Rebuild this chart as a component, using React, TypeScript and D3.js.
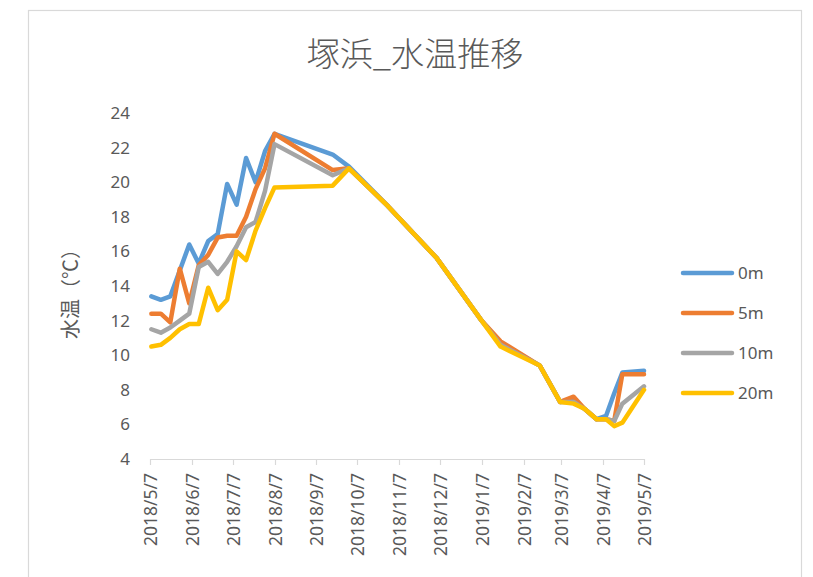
import React from "react";
import * as d3 from "d3";

const dates = ["2018-05-08","2018-05-15","2018-05-22","2018-05-29","2018-06-05","2018-06-12","2018-06-19","2018-06-26","2018-07-03","2018-07-10","2018-07-17","2018-07-24","2018-07-31","2018-08-07","2018-09-19","2018-10-01","2018-10-30","2018-12-05","2019-01-07","2019-01-21","2019-02-19","2019-03-06","2019-03-16","2019-03-24","2019-04-02","2019-04-09","2019-04-15","2019-04-21","2019-05-07"];

const s0m = [13.4,13.2,13.4,14.9,16.4,15.3,16.6,17.0,19.9,18.7,21.4,20.0,21.8,22.8,21.6,20.9,18.6,15.6,12.0,10.7,9.4,7.3,7.4,6.9,6.3,6.5,7.8,9.0,9.1];
const s5m = [12.4,12.4,11.9,15.0,13.0,15.2,15.8,16.8,16.9,16.9,18.0,19.6,20.8,22.8,20.7,20.8,18.6,15.6,12.0,10.8,9.4,7.3,7.6,6.9,6.3,6.3,6.2,8.9,8.9];
const s10m = [11.5,11.3,11.6,12.0,12.4,15.1,15.4,14.7,15.4,16.3,17.4,17.7,19.5,22.2,20.4,20.8,18.6,15.6,12.0,10.6,9.4,7.3,7.3,6.9,6.3,6.3,6.2,7.2,8.2];
const s20m = [10.5,10.6,11.0,11.5,11.8,11.8,13.9,12.6,13.2,16.0,15.5,17.2,18.5,19.7,19.8,20.8,18.6,15.6,12.0,10.5,9.4,7.3,7.2,6.9,6.3,6.3,5.9,6.1,8.0];

const seriesNames = ["0m","5m","10m","20m"];
const seriesColors = ["#5B9BD5","#ED7D31","#A5A5A5","#FFC000"];
const seriesValues = [s0m, s5m, s10m, s20m];

const xTickDates = ["2018-05-07","2018-06-07","2018-07-07","2018-08-07","2018-09-07","2018-10-07","2018-11-07","2018-12-07","2019-01-07","2019-02-07","2019-03-07","2019-04-07","2019-05-07"];
const yTicks = [4,6,8,10,12,14,16,18,20,22,24];

const parse = d3.timeParse("%Y-%m-%d");
const fmt = (d: Date) => `${d.getFullYear()}/${d.getMonth() + 1}/${d.getDate()}`;

export default function App() {
  const W = 813, H = 577;
  const x = d3.scaleTime().domain([parse("2018-05-07")!, parse("2019-05-07")!]).range([150, 644]);
  const y = d3.scaleLinear().domain([4, 24]).range([459, 113]);
  const line = d3.line<[Date, number]>().x(d => x(d[0])).y(d => y(d[1]));
  const pd = dates.map(d => parse(d)!);
  const textColor = "#595959";
  const numFont = "'Noto Sans', sans-serif";
  return (
    <div style={{ position: "absolute", left: 0, top: 0 }}>
      <svg width={W} height={H} style={{ display: "block", background: "#fff" }}>
        <rect x={28.5} y={10.5} width={773} height={600} fill="#fff" stroke="#d9d9d9" strokeWidth={1.2} />
        <text x={415} y={66} textAnchor="middle" fontSize={33} fill={textColor} fontFamily="'Noto Sans CJK JP', sans-serif" fontWeight={300}>塚浜_水温推移</text>
        <text transform="translate(78,289) rotate(-90)" textAnchor="middle" fontSize={20} fill={textColor} fontFamily="'Noto Sans CJK JP', sans-serif">水温（℃）</text>
        {yTicks.map(t => (
          <text key={t} x={130} y={y(t) + 6} textAnchor="end" fontSize={17} fill={textColor} fontFamily={numFont}>{t}</text>
        ))}
        <line x1={150} x2={644} y1={459.5} y2={459.5} stroke="#d9d9d9" strokeWidth={1.2} />
        {xTickDates.map(ds => {
          const d = parse(ds)!;
          const xx = Math.round(x(d)) + 0.5;
          return (
            <g key={ds}>
              <line x1={xx} x2={xx} y1={459} y2={465} stroke="#d9d9d9" strokeWidth={1.2} />
              <text transform={`translate(${xx + 6.5},473) rotate(-90)`} textAnchor="end" fontSize={17.5} fill={textColor} fontFamily={numFont}>{fmt(d)}</text>
            </g>
          );
        })}
        {seriesValues.map((vals, i) => (
          <path key={i} d={line(pd.map((d, j) => [d, vals[j]] as [Date, number])) || ""} fill="none" stroke={seriesColors[i]} strokeWidth={4.5} strokeLinejoin="round" strokeLinecap="round" />
        ))}
        {seriesNames.map((n, i) => {
          const ly = 273 + i * 40;
          return (
            <g key={n}>
              <line x1={683} x2={732} y1={ly} y2={ly} stroke={seriesColors[i]} strokeWidth={4.5} strokeLinecap="round" />
              <text x={738} y={ly + 6} fontSize={17} fill={textColor} fontFamily={numFont}>{n}</text>
            </g>
          );
        })}
      </svg>
    </div>
  );
}
